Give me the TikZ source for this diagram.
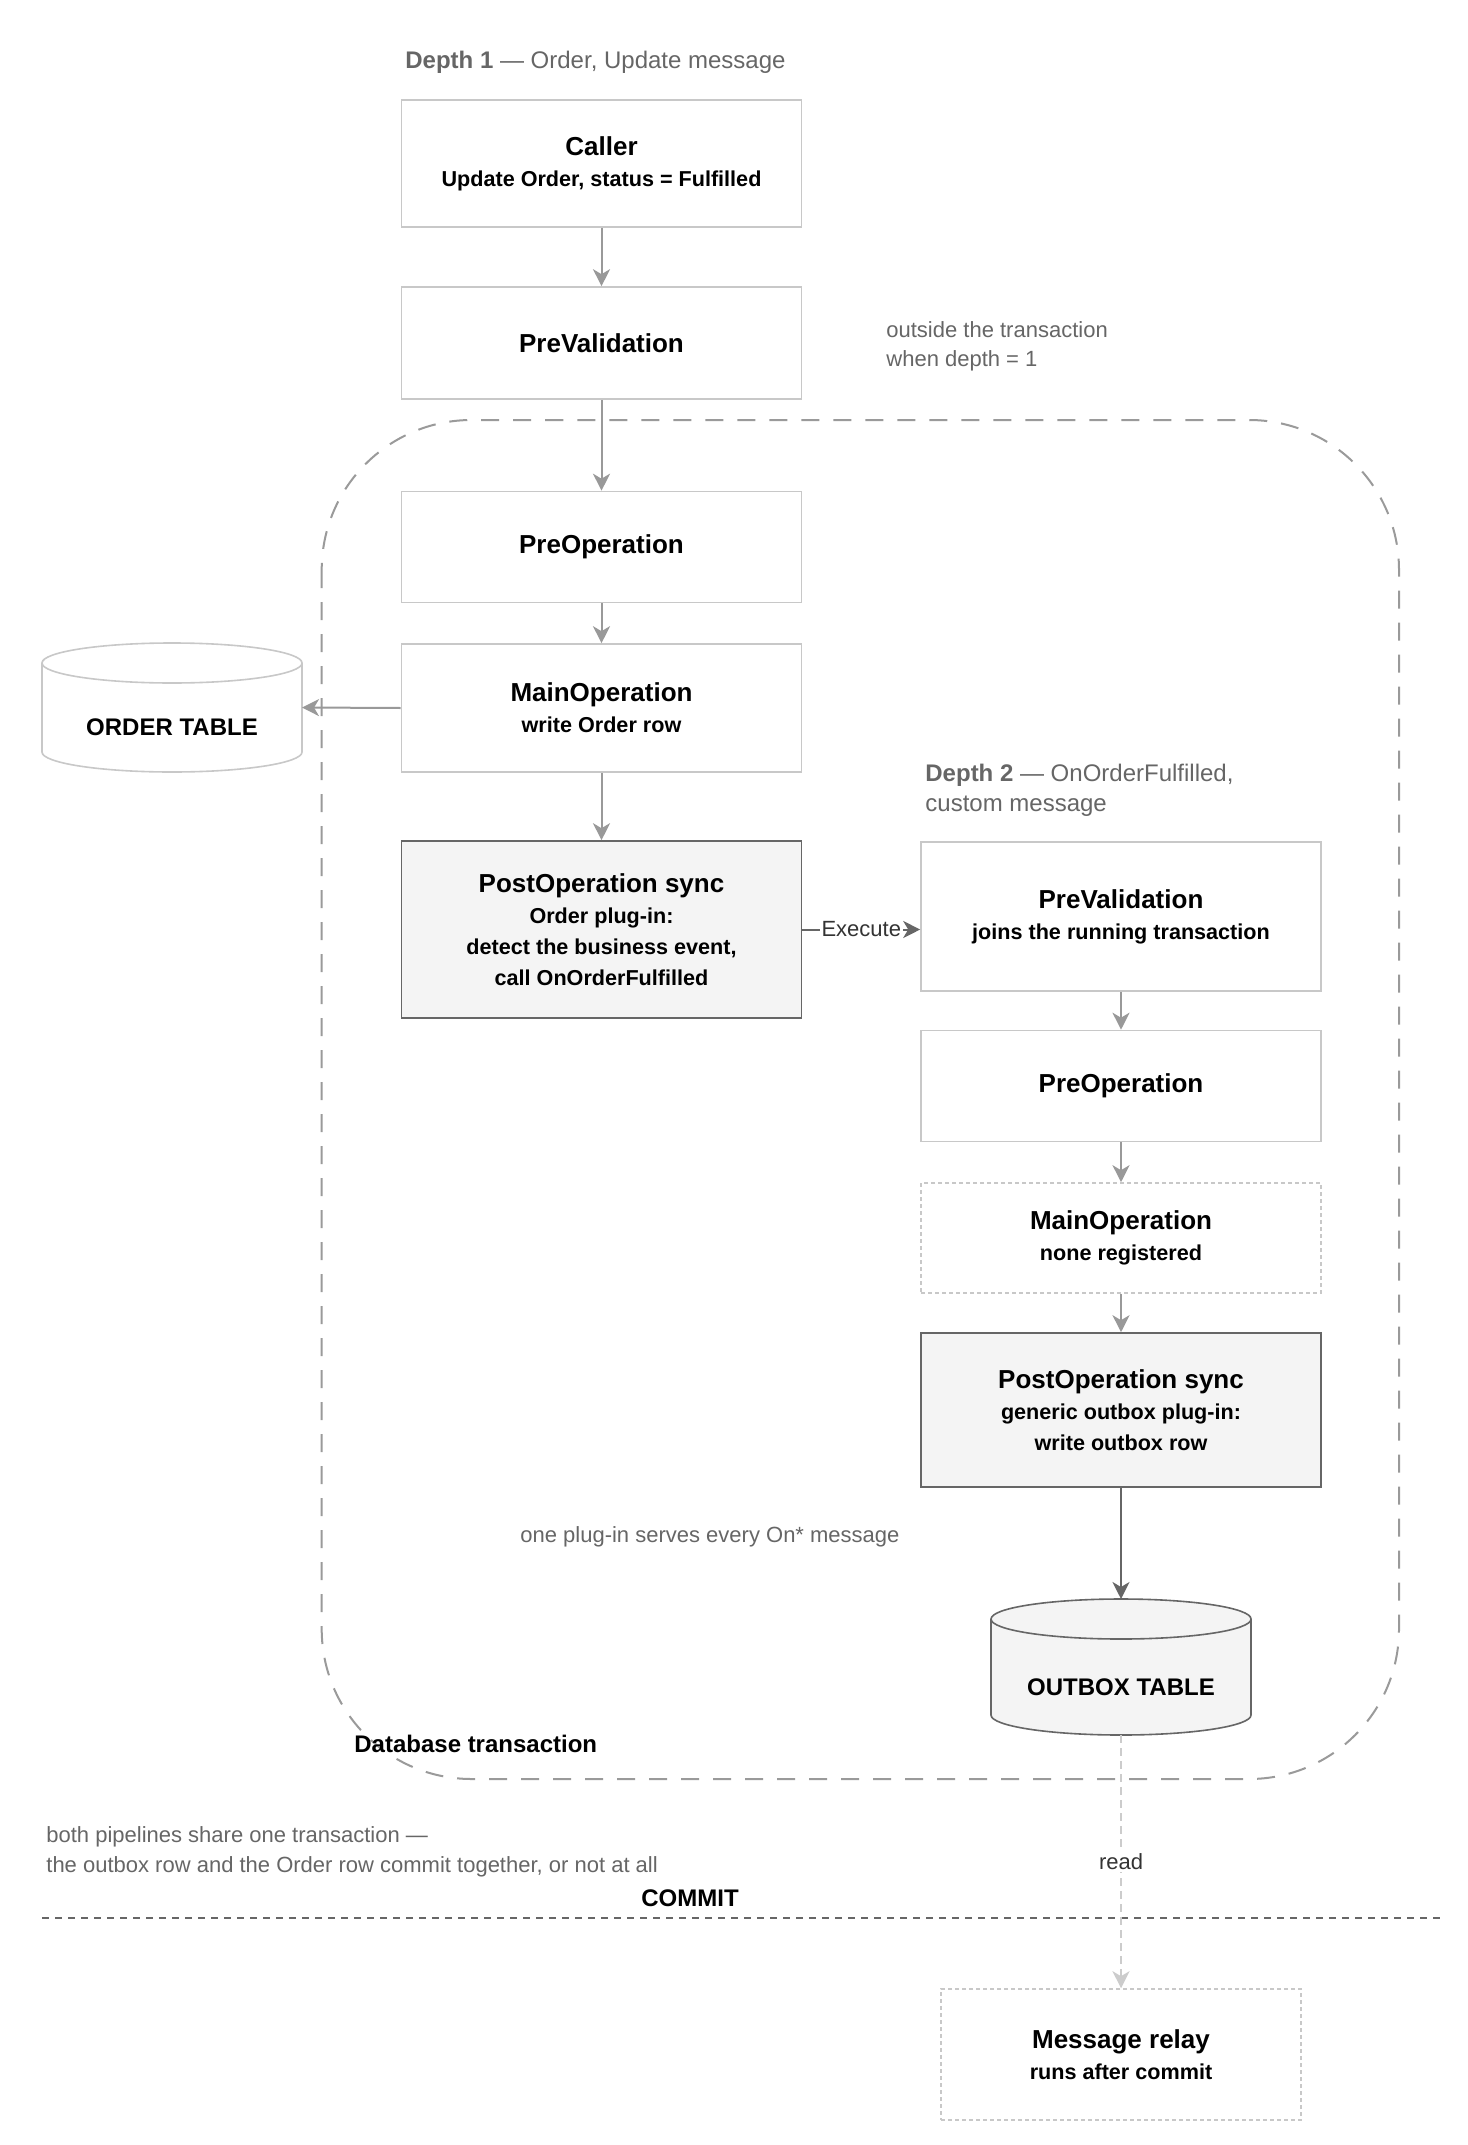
\documentclass[tikz,border=0pt]{standalone}
\usepackage{fontspec}
\setmainfont{Liberation Sans}
\usetikzlibrary{arrows.meta,calc}
\definecolor{lbord}{HTML}{C8C8C8}
\definecolor{dbord}{HTML}{666666}
\definecolor{arr}{HTML}{999999}
\definecolor{notec}{HTML}{666666}
\definecolor{pfill}{HTML}{F4F4F4}
\definecolor{tdash}{HTML}{9A9A9A}
\definecolor{txtc}{HTML}{333333}
\definecolor{rdash}{HTML}{CCCCCC}
\newcommand\subf{\fontsize{10.8}{15.5}\selectfont\bfseries}
\newcommand\ttlf{\fontsize{13}{15.5}\selectfont\bfseries}
\newcommand\notef{\fontsize{11}{14.75}\selectfont}
\newcommand\depthf{\fontsize{12}{15}\selectfont}
\tikzset{
  box/.style={draw=lbord, line width=0.8pt, fill=white, minimum width=200pt,
    align=center, inner sep=2pt, font=\subf, text=black},
  postbox/.style={box, draw=dbord, fill=pfill},
  dashbox/.style={box, draw=lbord, dash pattern=on 2pt off 1.5pt},
  flow/.style={draw=arr, line width=1pt, -{Stealth[length=8.5pt,width=8.5pt,inset=2.5pt]}},
  darkflow/.style={flow, draw=dbord},
  readflow/.style={flow, draw=rdash, dash pattern=on 4pt off 2.5pt},
  note/.style={font=\notef, text=notec, inner sep=0pt, align=left},
  blabel/.style={font=\fontsize{12}{14}\selectfont\bfseries, text=black, inner sep=0pt},
  elabel/.style={font=\fontsize{11}{13}\selectfont, text=txtc, fill=white, inner sep=1pt},
  ghost/.style={inner sep=0pt, outer sep=0pt, minimum width=130pt},
  cyl/.style={line width=0.8pt},
}
\begin{document}
\begin{tikzpicture}[x=0.5pt, y=-0.5pt]
\useasboundingbox (0,0) rectangle (1467,2145);
\fill[white] (0,0) rectangle (1467,2145);

% transaction frame
\draw[tdash, line width=1pt, dash pattern=on 9pt off 7pt, rounded corners=75pt]
  (321.7,420) rectangle (1399,1779);

% depth 1 pipeline
\node[note, anchor=base west, font=\depthf] (d1) at (405,69)
  {\textbf{Depth 1} — Order, Update message};
\node[box, minimum height=63.5pt] (caller) at (601.5,163.5)
  {{\ttlf Caller}\\Update Order, status = Fulfilled};
\node[box, minimum height=56pt] (pv1) at (601.5,343) {{\ttlf PreValidation}};
\node[note, anchor=base west] (outnote) at (886,366.5)
  {outside the transaction\\when depth = 1};
\node[box, minimum height=55.5pt] (po1) at (601.5,547) {{\ttlf PreOperation}};
\node[box, minimum height=64pt] (mo1) at (601.5,708)
  {{\ttlf MainOperation}\\write Order row};
\node[postbox, minimum height=88.5pt] (post1) at (601.5,929.5)
  {{\ttlf PostOperation sync}\\Order plug-in:\\detect the business event,\\call OnOrderFulfilled};

% order table cylinder
\node[ghost, minimum height=64.5pt] (order) at (172,707.5) {};
\draw[cyl, draw=lbord, fill=white]
  ($(order.north west)+(0,-10pt)$) -- ($(order.south west)+(0,10pt)$)
  arc[start angle=180, end angle=360, x radius=65pt, y radius=10pt]
  -- ($(order.north east)+(0,-10pt)$)
  arc[start angle=0, end angle=180, x radius=65pt, y radius=10pt] -- cycle;
\draw[cyl, draw=lbord] ($(order.north west)+(0,-10pt)$)
  arc[start angle=180, end angle=360, x radius=65pt, y radius=10pt];
\node[blabel] (ordertxt) at ($(order.center)+(0,-10pt)$) {ORDER TABLE};

% depth 2 pipeline
\node[note, anchor=base west, font=\depthf] (d2) at (925,811)
  {\textbf{Depth 2} — OnOrderFulfilled,\\custom message};
\node[box, minimum height=74.5pt] (pv2) at (1121,916.5)
  {{\ttlf PreValidation}\\joins the running transaction};
\node[box, minimum height=55.5pt] (po2) at (1121,1086) {{\ttlf PreOperation}};
\node[dashbox, minimum height=55pt] (mo2) at (1121,1238)
  {{\ttlf MainOperation}\\none registered};
\node[postbox, minimum height=77pt] (post2) at (1121,1410)
  {{\ttlf PostOperation sync}\\generic outbox plug-in:\\write outbox row};
\node[note, anchor=base west] (plugnote) at (520,1542) {one plug-in serves every On* message};

% outbox cylinder
\node[ghost, minimum height=68pt] (outbox) at (1121,1667) {};
\draw[cyl, draw=dbord, fill=pfill]
  ($(outbox.north west)+(0,-10pt)$) -- ($(outbox.south west)+(0,10pt)$)
  arc[start angle=180, end angle=360, x radius=65pt, y radius=10pt]
  -- ($(outbox.north east)+(0,-10pt)$)
  arc[start angle=0, end angle=180, x radius=65pt, y radius=10pt] -- cycle;
\draw[cyl, draw=dbord] ($(outbox.north west)+(0,-10pt)$)
  arc[start angle=180, end angle=360, x radius=65pt, y radius=10pt];
\node[blabel] (outboxtxt) at ($(outbox.center)+(0,-10pt)$) {OUTBOX TABLE};

\node[blabel, anchor=base west] (dblabel) at (354,1752) {Database transaction};

% commit
\node[note, anchor=base west] (bothnote) at (46,1872)
  {both pipelines share one transaction —\\the outbox row and the Order row commit together, or not at all};
\node[blabel, anchor=base] (commit) at (690,1906) {COMMIT};
\coordinate (cl) at (42,1918);
\coordinate (cr) at (1442,1918);
\draw[dbord, line width=1.3pt, dash pattern=on 3.5pt off 3pt] (cl) -- (cr);

\node[dashbox, minimum width=180pt, minimum height=65.5pt] (relay) at (1121,2054.5)
  {{\ttlf Message relay}\\runs after commit};

% connectors
\draw[flow] (caller) -- (pv1);
\draw[flow] (pv1) -- (po1);
\draw[flow] (po1) -- (mo1);
\draw[flow] (mo1) -- (post1);
\draw[flow] (mo1.west) -- (order.east);
\draw[darkflow] (post1.east) -- node[elabel] {Execute} (post1.east -| pv2.west);
\draw[flow] (pv2) -- (po2);
\draw[flow] (po2) -- (mo2);
\draw[flow] (mo2) -- (post2);
\draw[darkflow] (post2.south) -- (outbox.north);
\draw[readflow] (outbox.south) -- node[elabel] {read} (relay.north);
\end{tikzpicture}
\end{document}
